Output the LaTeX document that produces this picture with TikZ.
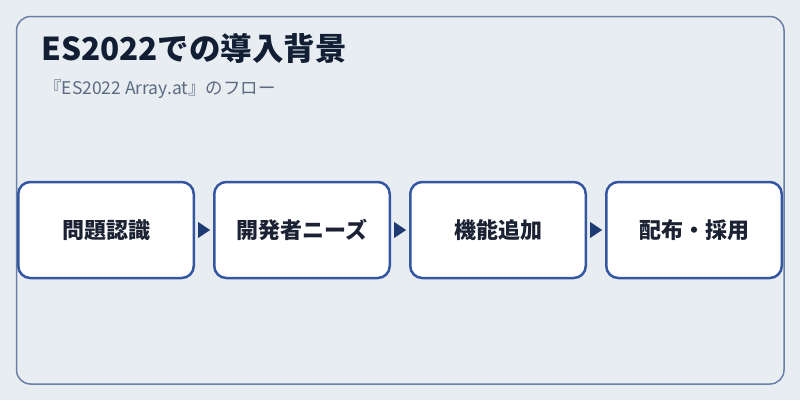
\documentclass[tikz,border=0pt]{standalone}
\usepackage{fontspec}
\setmainfont{Noto Sans CJK JP}
\usetikzlibrary{arrows.meta}
\definecolor{bgc}{HTML}{E8EDF2}
\definecolor{framec}{HTML}{6B80A8}
\definecolor{boxc}{HTML}{3557A0}
\definecolor{arrc}{HTML}{1F3B73}
\definecolor{titlec}{HTML}{111E33}
\definecolor{subc}{HTML}{5C6B82}
\definecolor{textc}{HTML}{1A2233}
\tikzset{
  stepbox/.style={draw=boxc, line width=2.5pt, fill=white, rounded corners=12pt,
    minimum width=175.5pt, minimum height=96pt, inner sep=0pt,
    font=\fontsize{22}{24}\selectfont\bfseries, text=textc},
  flowarrow/.style={draw=arrc, fill=arrc, line width=0.1pt, -{Triangle[length=12pt,width=16pt]},
    shorten <=3pt, shorten >=3pt},
}
\begin{document}
\begin{tikzpicture}[x=1pt,y=-1pt]
\useasboundingbox (0,0) rectangle (800,400);
\fill[bgc] (0,0) rectangle (800,400);
\draw[framec, line width=1.5pt, rounded corners=14pt] (16.5,16.5) rectangle (784,384);
\node[anchor=west, text=titlec, font=\fontsize{31.5}{34}\selectfont\bfseries, inner sep=0pt] (title) at (41,48) {ES2022での導入背景};
\node[anchor=west, text=subc, font=\fontsize{17.5}{20}\selectfont, inner sep=0pt] (sub) at (44,89.5) {『ES2022 Array.at』のフロー};
\node[stepbox] (b1) at (106,230) {問題認識};
\node[stepbox] (b2) at (302,230) {開発者ニーズ};
\node[stepbox] (b3) at (498,230) {機能追加};
\node[stepbox] (b4) at (694,230) {配布・採用};
\draw[flowarrow] (b1.east) -- (b2.west);
\draw[flowarrow] (b2.east) -- (b3.west);
\draw[flowarrow] (b3.east) -- (b4.west);
\end{tikzpicture}
\end{document}
